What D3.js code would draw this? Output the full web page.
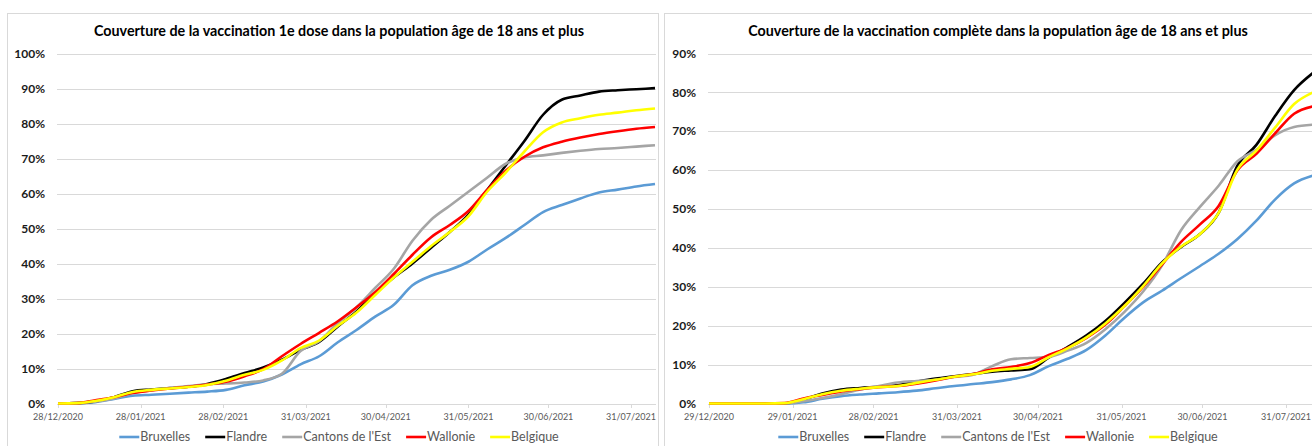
<!DOCTYPE html>
<html lang="fr">
<head>
<meta charset="UTF-8">
<title>Couverture vaccinale 18+</title>
<script src="https://d3js.org/d3.v7.min.js"></script>
<style>
  body { margin: 0; background: #fff; }
  svg { display: block; font-family: Lato, "Open Sans", sans-serif; }
</style>
</head>
<body>
<svg id="chart" width="1312" height="446"></svg>
<script>
// regions, in drawing order (Belgique on top)
const regions = ["Bruxelles", "Flandre", "Cantons de l'Est", "Wallonie", "Belgique"];
const regionColors = ["#5B9BD5", "#000000", "#A5A5A5", "#FF0000", "#FFFF00"];

// --- 1e dose, % of 18+ population, one value a week from 28/12/2020
const dose1Start = "2020-12-28";
const dose1Days = [0, 7, 14, 21, 28, 35, 42, 49, 56, 63, 70, 77, 84, 91, 98, 105, 112,
                   119, 126, 133, 140, 147, 154, 161, 168, 175, 182, 189, 196, 203, 210, 217, 224];
const dose1Bruxelles = [0, 0.1, 0.4, 1.3, 2.2, 2.5, 2.8, 3.1, 3.4, 3.9, 5.2, 6.3, 8.3, 11.2, 13.5, 17.5, 21.0,
                        24.8, 28.2, 33.8, 36.5, 38.2, 40.5, 44.0, 47.3, 51.0, 54.7, 56.7, 58.6, 60.3, 61.1, 62.0, 62.7];
const dose1Flandre = [0, 0.1, 0.6, 1.8, 3.5, 4.0, 4.4, 4.8, 5.6, 7.0, 8.7, 10.3, 12.5, 15.3, 17.6, 22.0, 26.3,
                      31.5, 36.0, 40.0, 44.5, 49.0, 54.0, 61.0, 68.0, 75.0, 82.5, 86.8, 88.0, 89.1, 89.5, 89.8, 90.1];
const dose1Cantons = [0, 0.1, 0.5, 1.4, 3.0, 3.8, 4.4, 5.0, 5.5, 5.7, 6.0, 6.6, 8.5, 15.0, 17.8, 23.0, 27.5,
                      33.0, 38.5, 46.5, 52.5, 56.5, 60.5, 64.5, 68.5, 70.3, 70.9, 71.6, 72.2, 72.7, 73.0, 73.4, 73.8];
const dose1Wallonie = [0, 0.1, 0.9, 1.8, 3.0, 3.7, 4.3, 4.8, 5.4, 6.2, 7.8, 9.8, 13.5, 17.0, 20.2, 23.5, 27.5,
                       31.8, 37.0, 42.5, 47.5, 51.0, 55.0, 61.0, 66.5, 70.5, 73.2, 74.8, 76.0, 77.0, 77.8, 78.5, 79.0];
const dose1Belgique = [0, 0.1, 0.7, 1.8, 3.3, 3.9, 4.3, 4.7, 5.3, 6.5, 8.2, 9.6, 12.3, 15.8, 18.0, 22.2, 26.0,
                       31.0, 36.0, 40.5, 45.0, 49.0, 53.5, 60.5, 66.0, 72.0, 77.5, 80.3, 81.5, 82.5, 83.1, 83.8, 84.3];
const dose1Ticks = ["2020-12-28", "2021-01-28", "2021-02-28", "2021-03-31",
                    "2021-04-30", "2021-05-31", "2021-06-30", "2021-07-31"];

// --- vaccination complète, one value a week from 29/12/2020
const fullStart = "2020-12-29";
const fullDays = [0, 7, 14, 21, 28, 35, 42, 49, 56, 63, 70, 77, 84, 91, 98, 105, 112,
                  119, 126, 133, 140, 147, 154, 161, 168, 175, 182, 189, 196, 203, 210, 217, 224];
const fullBruxelles = [0, 0, 0, 0, 0, 0.3, 1.2, 1.9, 2.3, 2.6, 2.9, 3.3, 3.9, 4.5, 5.0, 5.5, 6.2,
                       7.3, 9.6, 11.5, 13.8, 17.5, 22.0, 26.0, 29.0, 32.2, 35.3, 38.5, 42.3, 47.0, 52.5, 56.6, 58.6];
const fullFlandre = [0, 0, 0, 0, 0, 1.0, 2.6, 3.6, 4.0, 4.3, 4.7, 5.6, 6.4, 7.0, 7.6, 8.2, 8.5,
                     8.8, 11.8, 14.5, 17.5, 21.2, 25.8, 30.8, 36.3, 40.2, 43.5, 49.0, 61.2, 66.5, 74.0, 80.6, 85.0];
const fullCantons = [0, 0, 0, 0, 0, 0.6, 1.4, 2.4, 3.6, 4.5, 5.4, 5.8, 6.1, 6.8, 7.4, 9.6, 11.4,
                     11.7, 12.0, 13.6, 15.6, 19.1, 23.5, 28.8, 35.5, 44.5, 50.5, 56.0, 62.3, 65.2, 69.0, 71.1, 71.7];
const fullWallonie = [0, 0, 0, 0, 0.1, 1.3, 2.2, 3.1, 3.7, 4.2, 4.5, 5.1, 5.9, 6.9, 7.6, 8.8, 9.4,
                      10.4, 12.5, 14.3, 16.9, 20.3, 25.0, 30.0, 35.7, 41.5, 46.0, 50.8, 60.0, 64.2, 69.5, 74.5, 76.4];
const fullBelgique = [0, 0, 0, 0, 0.1, 1.1, 2.4, 3.3, 3.8, 4.2, 4.5, 5.3, 6.1, 6.9, 7.5, 8.4, 8.9,
                      9.4, 11.9, 14.2, 17.0, 20.6, 25.0, 30.2, 36.0, 40.3, 43.5, 49.0, 60.2, 65.0, 71.0, 77.0, 80.0];
const fullTicks = ["2020-12-29", "2021-01-29", "2021-02-28", "2021-03-31",
                   "2021-04-30", "2021-05-31", "2021-06-30", "2021-07-31"];

const svg = d3.select("#chart");
const parseDate = d3.timeParse("%Y-%m-%d");
const fmt = d3.timeFormat("%d/%m/%Y");
const gridColor = "#D9D9D9";

function drawPanel(p) {
    const g = svg.append("g");

    // chart frame
    g.append("rect")
        .attr("x", p.box[0] + 0.5).attr("y", 13.5)
        .attr("width", p.box[1] - p.box[0]).attr("height", 460)
        .attr("fill", "none").attr("stroke", gridColor);

    const start = parseDate(p.start);
    const dates = p.days.map(d => d3.timeDay.offset(start, d));
    const x = d3.scaleTime().domain([start, dates[dates.length - 1]]).range(p.xRange);
    const y = d3.scaleLinear().domain([0, p.yMax]).range([403.5, 53.5]);

    // horizontal gridlines + y labels
    const yTicks = d3.range(0, p.yMax + 0.01, 10);
    g.selectAll(".grid").data(yTicks).join("line")
        .attr("x1", p.grid[0]).attr("x2", p.grid[1])
        .attr("y1", d => Math.round(y(d)) + 0.5).attr("y2", d => Math.round(y(d)) + 0.5)
        .attr("stroke", gridColor);
    g.selectAll(".ylab").data(yTicks).join("text")
        .attr("x", p.xRange[0] - 13).attr("y", d => y(d)).attr("dy", "0.35em")
        .attr("text-anchor", "end")
        .style("font-size", "12px").style("font-weight", 700).style("fill", "#1a1a1a")
        .text(d => d + "%");

    // x axis ticks and labels
    const tickDates = p.ticks.map(parseDate);
    g.selectAll(".xt").data(tickDates).join("line")
        .attr("x1", d => Math.round(x(d)) + 0.5).attr("x2", d => Math.round(x(d)) + 0.5)
        .attr("y1", 404).attr("y2", 408)
        .attr("stroke", gridColor);
    g.selectAll(".xlab").data(tickDates).join("text")
        .attr("x", d => x(d)).attr("y", 420)
        .attr("text-anchor", "middle")
        .style("font-size", "9px").style("fill", "#595959")
        .text(d => fmt(d));

    // series
    const line = d3.line()
        .x((d, i) => x(dates[i]))
        .y(d => y(d))
        .curve(d3.curveMonotoneX);
    p.values.forEach((vals, k) => {
        g.append("path")
            .datum(vals)
            .attr("d", line)
            .attr("fill", "none")
            .attr("stroke", regionColors[k])
            .attr("stroke-width", 2.6)
            .attr("stroke-linejoin", "round");
    });

    // title
    g.append("text")
        .attr("x", p.cx).attr("y", 36)
        .attr("text-anchor", "middle")
        .style("font-size", "14.3px").style("font-weight", 700).style("fill", "#000")
        .text(p.title);

    // legend, centred under the chart
    const leg = g.append("g");
    const items = leg.selectAll("g").data(regions).join("g");
    items.append("line")
        .attr("x1", 0).attr("x2", 20).attr("y1", 0).attr("y2", 0)
        .attr("stroke", (d, i) => regionColors[i]).attr("stroke-width", 2.6);
    items.append("text")
        .attr("x", 21).attr("dy", "0.35em")
        .style("font-size", "12.5px").style("fill", "#595959")
        .text(d => d);
    let pos = 0;
    const offsets = [];
    items.each(function () {
        offsets.push(pos);
        pos += 21 + d3.select(this).select("text").node().getComputedTextLength() + 15;
    });
    const total = pos - 15;
    items.attr("transform", (d, i) => `translate(${offsets[i]},0)`);
    leg.attr("transform", `translate(${p.cx - total / 2},437)`);
}

drawPanel({
    box: [7, 658],
    cx: 339,
    title: "Couverture de la vaccination 1e dose dans la population âge de 18 ans et plus",
    start: dose1Start, days: dose1Days, ticks: dose1Ticks,
    values: [dose1Bruxelles, dose1Flandre, dose1Cantons, dose1Wallonie, dose1Belgique],
    yMax: 100,
    xRange: [58, 655],
    grid: [57, 656]
});

drawPanel({
    box: [664, 1330],
    cx: 998,
    title: "Couverture de la vaccination complète dans la population âge de 18 ans et plus",
    start: fullStart, days: fullDays, ticks: fullTicks,
    values: [fullBruxelles, fullFlandre, fullCantons, fullWallonie, fullBelgique],
    yMax: 90,
    xRange: [709, 1313],
    grid: [708, 1320]
});
</script>
</body>
</html>
